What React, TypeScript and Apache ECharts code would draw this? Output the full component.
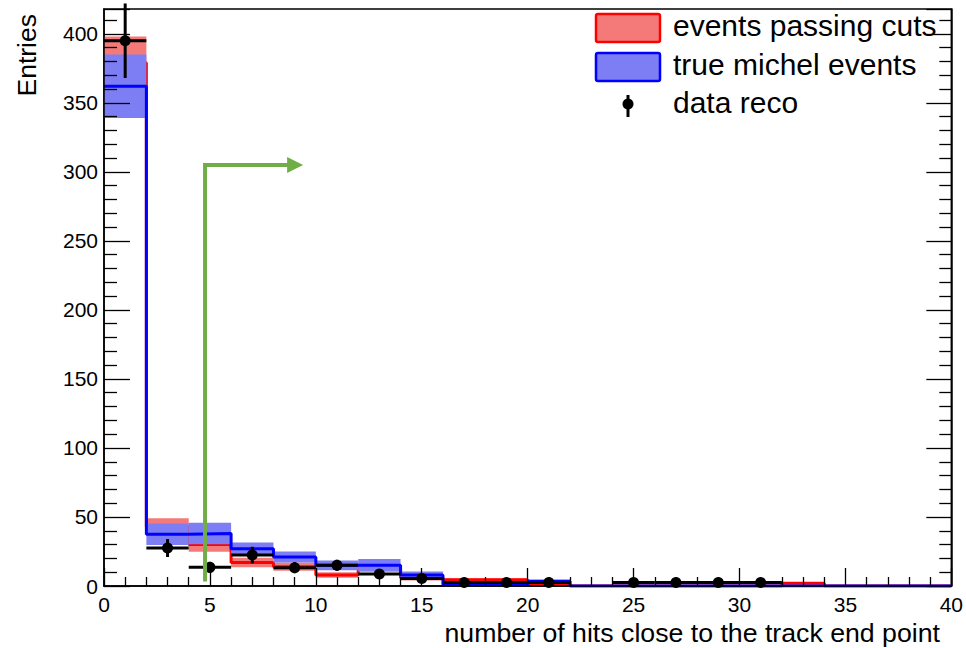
import React, { useEffect, useRef } from "react";
import * as echarts from "echarts";

// Histogram binning: 20 bins of width 2 from 0 to 40
const binEdges = [0, 2, 4, 6, 8, 10, 12, 14, 16, 18, 20, 22, 24, 26, 28, 30, 32, 34, 36, 38, 40];

// "events passing cuts" (MC, red) with its uncertainty band
const passingCuts = [379, 43, 30, 17, 14, 8, 13, 6, 4.5, 4.5, 1.5, 0, 0, 0, 0, 0, 2, 0, 0, 0];
const passingCutsErr = [19, 6, 5.2, 3.5, 3, 2, 2.5, 2, 1, 1, 1, 0, 0, 0, 0, 0, 0.8, 0, 0, 0];

// "true michel events" (MC, blue) with its uncertainty band
const trueMichel = [362, 37.5, 38, 27, 21, 15, 15, 8, 1, 1, 3.5, 0, 0, 0, 0, 0, 0, 0, 0, 0];
const trueMichelErr = [23, 7.8, 7.8, 4.5, 4, 3.5, 4.5, 2.5, 0.8, 0.8, 1, 0, 0, 0, 0, 0, 0, 0, 0, 0];

// "data reco" points (null = empty bin, not drawn)
const dataReco = [395, 27.5, 13.5, 22.4, 13.3, 15, 8.7, 5.5, 2.5, 2.5, 2.5, null, 2.5, 2.5, 2.5, 2.5, null, null, null, null];
const dataRecoErr = [27, 6.5, 4, 6, 4, 4, 3.5, 3, 1.6, 1.6, 1.6, null, 1.6, 1.6, 1.6, 1.6, null, null, null, null];

// Selection cut arrow: x position, base, height and arrow tip (data units)
const cutX = 4.77;
const cutBase = 3.2;
const cutTop = 305;
const cutArrowTip = 9.4;

const FONT = "'Liberation Sans', Arial, Helvetica, sans-serif";
const RED_BAND = "#f47a7a";
const BLUE_BAND = "#7e7ef4";

function bandData(values: number[], errs: number[]) {
  return values.map((v, i) => [binEdges[i], binEdges[i + 1], v - errs[i], v + errs[i]]);
}

function stepData(values: number[]) {
  const pts: number[][] = [];
  values.forEach((v, i) => {
    pts.push([binEdges[i], v]);
    pts.push([binEdges[i + 1], v]);
  });
  return pts;
}

function bandSeries(name: string, values: number[], errs: number[], fill: string, z: number) {
  return {
    type: "custom",
    name,
    z,
    clip: true,
    encode: { x: [0, 1], y: [2, 3] },
    data: bandData(values, errs),
    renderItem: (_p: any, api: any) => {
      const a = api.coord([api.value(0), api.value(3)]);
      const b = api.coord([api.value(1), api.value(2)]);
      return {
        type: "rect",
        shape: { x: a[0], y: a[1], width: b[0] - a[0], height: b[1] - a[1] },
        style: { fill },
      };
    },
  };
}

function lineSeries(name: string, values: number[], color: string, z: number) {
  return {
    type: "line",
    name,
    z,
    data: stepData(values),
    symbol: "none",
    lineStyle: { color, width: 3 },
    clip: true,
  };
}

export default function App() {
  const ref = useRef<HTMLDivElement>(null);

  useEffect(() => {
    if (!ref.current) return;
    const chart = echarts.init(ref.current, undefined, { renderer: "svg" });

    const points = dataReco
      .map((v, i) => (v === null ? null : [(binEdges[i] + binEdges[i + 1]) / 2, v, dataRecoErr[i] as number, binEdges[i], binEdges[i + 1]]))
      .filter((d) => d !== null);

    chart.setOption({
      animation: false,
      backgroundColor: "#ffffff",
      grid: { left: 104, right: 14, top: 9, bottom: 62, show: true, borderColor: "#000", borderWidth: 1.5 },
      xAxis: {
        type: "value",
        min: 0,
        max: 40,
        interval: 5,
        z: 20,
        axisLine: { show: true, onZero: false, lineStyle: { color: "#000", width: 1.5 } },
        axisTick: { show: true, inside: true, length: 18, lineStyle: { color: "#000", width: 1.3 } },
        minorTick: { show: true, splitNumber: 5, length: 9, lineStyle: { color: "#000", width: 1.3 } },
        axisLabel: { fontSize: 21, color: "#000", fontFamily: FONT, margin: 8, showMinLabel: true, showMaxLabel: true },
        splitLine: { show: false },
      },
      yAxis: [
        {
          type: "value",
          min: 0,
          max: 418,
          interval: 50,
          z: 20,
          axisLine: { show: true, lineStyle: { color: "#000", width: 1.5 } },
          axisTick: { show: true, inside: true, length: 26, lineStyle: { color: "#000", width: 1.3 } },
          minorTick: { show: true, splitNumber: 5, length: 13, lineStyle: { color: "#000", width: 1.3 } },
          axisLabel: {
            fontSize: 21,
            color: "#000",
            fontFamily: FONT,
            margin: 6,
            formatter: (v: number) => (v % 50 === 0 ? String(v) : ""),
          },
          splitLine: { show: false },
        },
        {
          type: "value",
          position: "right",
          min: 0,
          max: 418,
          interval: 50,
          axisLine: { show: true, lineStyle: { color: "#000", width: 1.5 } },
          axisTick: { show: true, inside: true, length: 25, lineStyle: { color: "#000", width: 1.3 } },
          minorTick: { show: true, splitNumber: 5, length: 12, lineStyle: { color: "#000", width: 1.3 } },
          axisLabel: { show: false },
          splitLine: { show: false },
        },
      ],
      series: [
        bandSeries("events passing cuts band", passingCuts, passingCutsErr, RED_BAND, 1),
        lineSeries("events passing cuts", passingCuts, "#ff0000", 2),
        bandSeries("true michel events band", trueMichel, trueMichelErr, BLUE_BAND, 3),
        lineSeries("true michel events", trueMichel, "#0000ff", 4),
        {
          type: "custom",
          name: "data reco",
          z: 5,
          clip: false,
          encode: { x: 0, y: 1 },
          data: points,
          renderItem: (_p: any, api: any) => {
            const xc = api.value(0);
            const v = api.value(1);
            const e = api.value(2);
            const c = api.coord([xc, v]);
            const l = api.coord([api.value(3), v]);
            const r = api.coord([api.value(4), v]);
            const t = api.coord([xc, v + e]);
            const b = api.coord([xc, v - e]);
            const st = { stroke: "#000", lineWidth: 3 };
            return {
              type: "group",
              children: [
                { type: "line", shape: { x1: l[0], y1: l[1], x2: r[0], y2: r[1] }, style: st },
                { type: "line", shape: { x1: t[0], y1: t[1], x2: b[0], y2: b[1] }, style: st },
                { type: "circle", shape: { cx: c[0], cy: c[1], r: 5.5 }, style: { fill: "#000" } },
              ],
            };
          },
        },
        {
          type: "custom",
          name: "cut",
          z: 6,
          clip: false,
          encode: { x: [0, 3], y: [1, 2] },
          data: [[cutX, cutBase, cutTop, cutArrowTip]],
          renderItem: (_p: any, api: any) => {
            const base = api.coord([api.value(0), api.value(1)]);
            const corner = api.coord([api.value(0), api.value(2)]);
            const tip = api.coord([api.value(3), api.value(2)]);
            const green = "#70ad47";
            const head = 16;
            return {
              type: "group",
              children: [
                {
                  type: "polyline",
                  shape: { points: [base, corner, [tip[0] - head + 2, tip[1]]] },
                  style: { stroke: green, lineWidth: 4, fill: "none" },
                },
                {
                  type: "polygon",
                  shape: {
                    points: [
                      [tip[0], tip[1]],
                      [tip[0] - head, tip[1] - 8],
                      [tip[0] - head, tip[1] + 8],
                    ],
                  },
                  style: { fill: green },
                },
              ],
            };
          },
        },
      ],
      graphic: [
        {
          type: "text",
          x: 27,
          y: 14,
          rotation: Math.PI / 2,
          style: { text: "Entries", fontSize: 26.5, fontFamily: FONT, fill: "#000", textAlign: "right", textVerticalAlign: "middle" },
        },
        {
          type: "text",
          x: 940,
          y: 633,
          style: {
            text: "number of hits close to the track end point",
            fontSize: 26.7,
            fontFamily: FONT,
            fill: "#000",
            textAlign: "right",
            textVerticalAlign: "middle",
          },
        },
        // legend
        { type: "rect", shape: { x: 596, y: 14, width: 64, height: 28, r: 2 }, style: { fill: RED_BAND, stroke: "#ff0000", lineWidth: 2.5 } },
        { type: "rect", shape: { x: 596, y: 53, width: 64, height: 28, r: 2 }, style: { fill: BLUE_BAND, stroke: "#0000ff", lineWidth: 2.5 } },
        { type: "line", shape: { x1: 628, y1: 95, x2: 628, y2: 117 }, style: { stroke: "#000", lineWidth: 3 } },
        { type: "circle", shape: { cx: 628, cy: 104, r: 5.5 }, style: { fill: "#000" } },
        {
          type: "text",
          x: 673,
          y: 25.5,
          style: { text: "events passing cuts", fontSize: 30, fontFamily: FONT, fill: "#000", textAlign: "left", textVerticalAlign: "middle" },
        },
        {
          type: "text",
          x: 673,
          y: 64.5,
          style: { text: "true michel events", fontSize: 30, fontFamily: FONT, fill: "#000", textAlign: "left", textVerticalAlign: "middle" },
        },
        {
          type: "text",
          x: 673,
          y: 102.5,
          style: { text: "data reco", fontSize: 30, fontFamily: FONT, fill: "#000", textAlign: "left", textVerticalAlign: "middle" },
        },
      ],
    });

    return () => chart.dispose();
  }, []);

  return <div ref={ref} style={{ position: "fixed", left: 0, top: 0, width: 966, height: 648, background: "#fff" }} />;
}
